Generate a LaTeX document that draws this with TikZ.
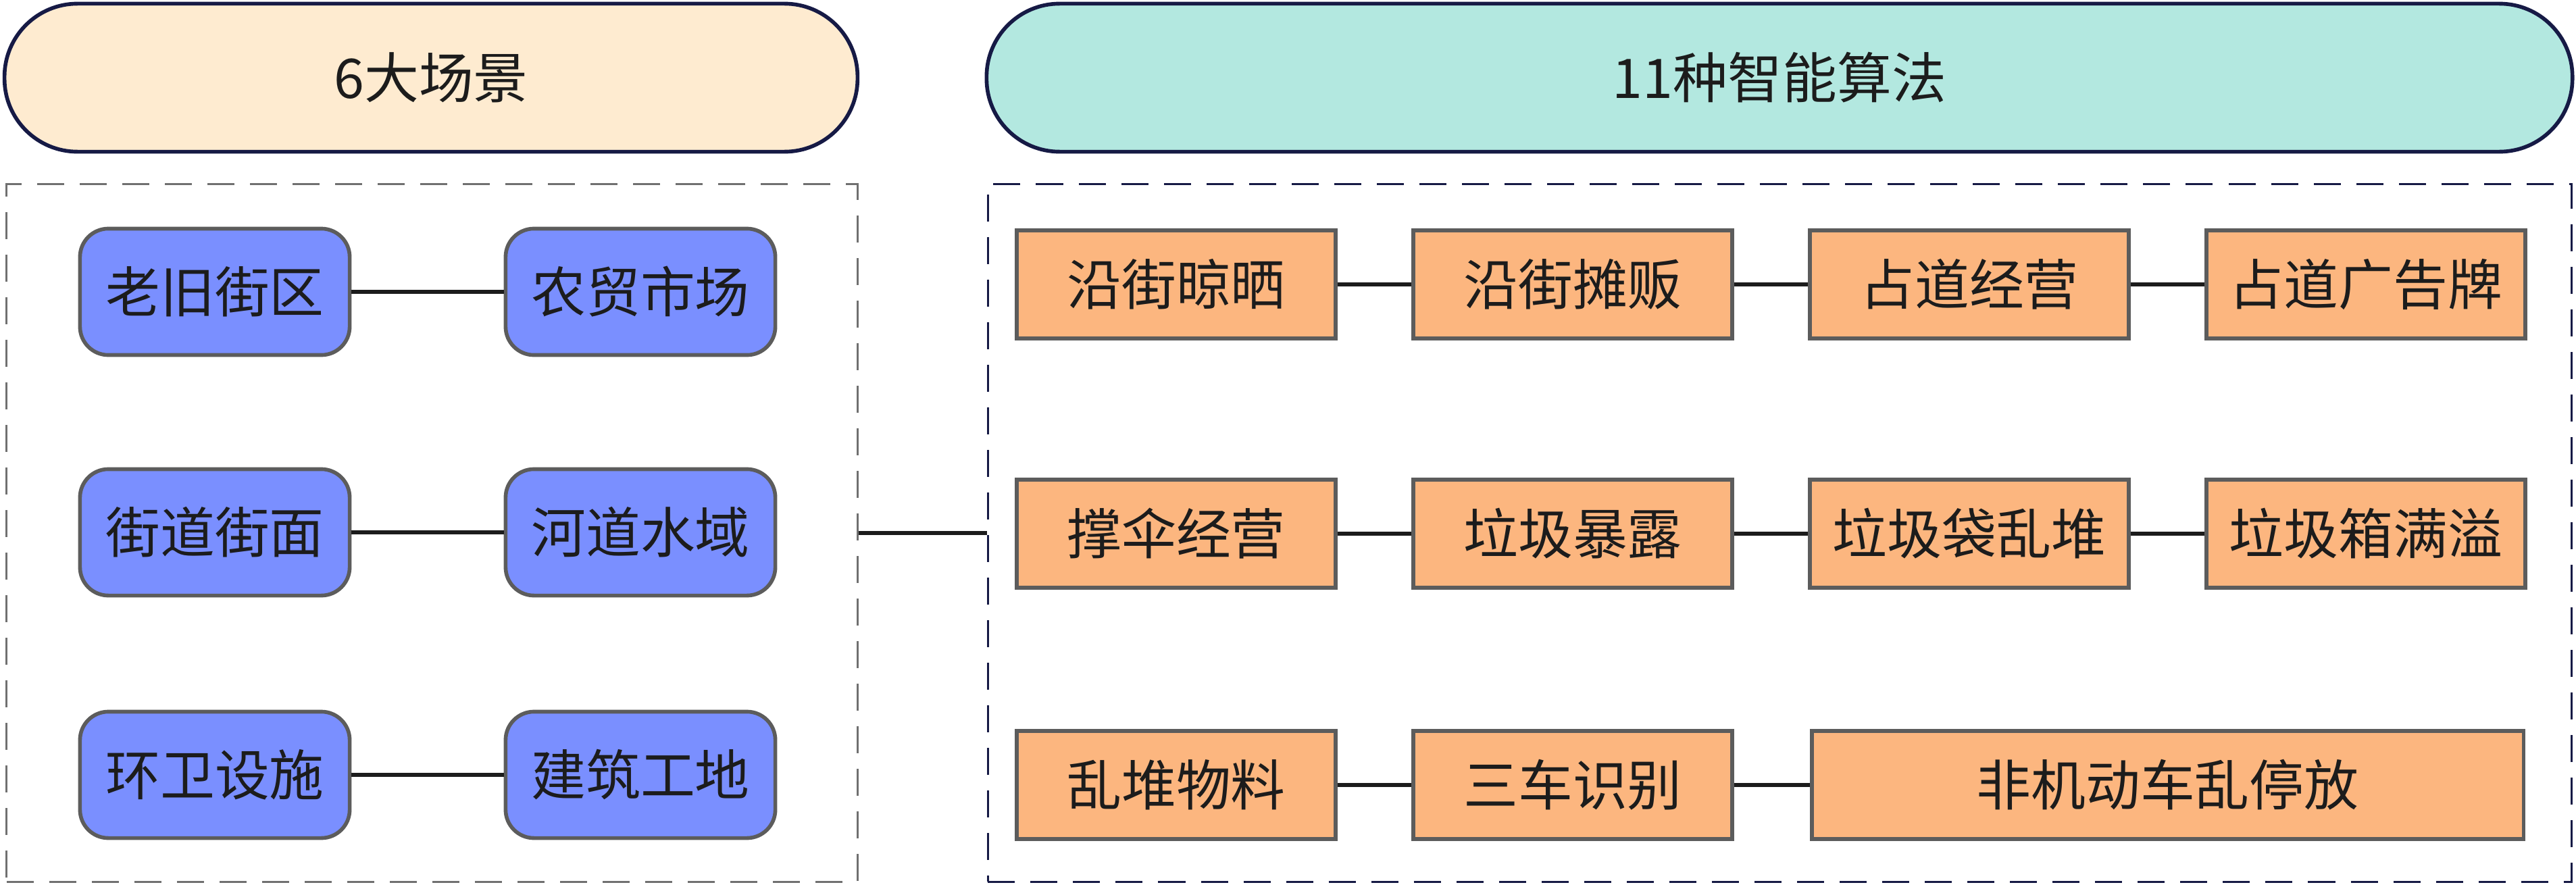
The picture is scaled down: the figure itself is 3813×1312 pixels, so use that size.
\documentclass[tikz,border=0pt]{standalone}
\usepackage{fontspec}
\setmainfont{Noto Sans CJK SC}

\definecolor{navy}{HTML}{161A45}
\definecolor{cream}{HTML}{FEEBD0}
\definecolor{mint}{HTML}{B3E8E0}
\definecolor{sceneblue}{HTML}{7A8FFF}
\definecolor{algoorange}{HTML}{FCB67F}
\definecolor{edge}{HTML}{5C5C5C}
\definecolor{ink}{HTML}{1C1C1C}
\definecolor{panelgray}{HTML}{707070}

\begin{document}
\begin{tikzpicture}[
  x=0.01cm, y=-0.01cm,
  font=\fontsize{23}{27}\selectfont,
  header/.style={draw=navy,line width=1.6pt,rounded corners=1.08cm,
    minimum height=2.19cm,text=ink,inner sep=0pt},
  panel/.style={draw,line width=0.9pt,dash pattern=on 0.4cm off 0.23cm,
    minimum height=10.32cm,inner sep=0pt},
  scene/.style={draw=edge,fill=sceneblue,line width=1.6pt,rounded corners=0.42cm,
    minimum width=3.99cm,minimum height=1.87cm,text=ink,inner sep=0pt},
  algo/.style={draw=edge,fill=algoorange,line width=1.6pt,
    minimum width=4.72cm,minimum height=1.6cm,text=ink,inner sep=0pt},
  link/.style={draw=ink,line width=1.9pt}
]
\useasboundingbox (0,0) rectangle (3813,1312);

% ------------------------------------------------------------------
% Headers
% ------------------------------------------------------------------
\node[header,fill=cream,minimum width=12.62cm] (scenehead) at (638,115) {6大场景};
\node[header,fill=mint,minimum width=23.46cm] (algohead) at (2634,115) {11种智能算法};

% ------------------------------------------------------------------
% Dashed panels
% ------------------------------------------------------------------
\node[panel,draw=panelgray,minimum width=12.59cm] (scenepanel) at (639.5,789) {};
\node[panel,draw=navy,minimum width=23.43cm] (algopanel) at (2634.5,789) {};
\draw[link] (scenepanel.east) -- (algopanel.west);

% ------------------------------------------------------------------
% 6 scenes
% ------------------------------------------------------------------
\node[scene] (s1) at (318,432) {老旧街区};
\node[scene] (s2) at (948,432) {农贸市场};
\node[scene] (s3) at (318,788) {街道街面};
\node[scene] (s4) at (948,788) {河道水域};
\node[scene] (s5) at (318,1147) {环卫设施};
\node[scene] (s6) at (948,1147) {建筑工地};
\foreach \a/\b in {s1/s2,s3/s4,s5/s6}
  \draw[link] (\a) -- (\b);

% ------------------------------------------------------------------
% 11 algorithms
% ------------------------------------------------------------------
\node[algo] (a1) at (1741,421) {沿街晾晒};
\node[algo] (a2) at (2328,421) {沿街摊贩};
\node[algo] (a3) at (2915,421) {占道经营};
\node[algo] (a4) at (3502,421) {占道广告牌};

\node[algo] (b1) at (1741,790) {撑伞经营};
\node[algo] (b2) at (2328,790) {垃圾暴露};
\node[algo] (b3) at (2915,790) {垃圾袋乱堆};
\node[algo] (b4) at (3502,790) {垃圾箱满溢};

\node[algo] (c1) at (1741,1162) {乱堆物料};
\node[algo] (c2) at (2328,1162) {三车识别};
\node[algo,minimum width=10.53cm] (c3) at (3208.5,1162) {非机动车乱停放};

\foreach \a/\b in {a1/a2,a2/a3,a3/a4,b1/b2,b2/b3,b3/b4,c1/c2,c2/c3}
  \draw[link] (\a) -- (\b);

\end{tikzpicture}
\end{document}
